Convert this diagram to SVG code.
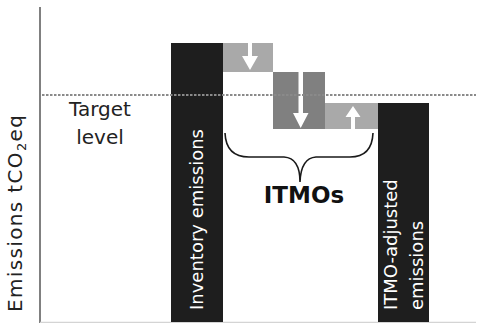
<svg xmlns="http://www.w3.org/2000/svg" width="502" height="323" viewBox="0 0 502 323">
<style>
.bar{fill:#1e1e1e}
.light{fill:#a9a9a9}
.dark{fill:#808080}
.arr{fill:#ffffff}
.wt{fill:#ffffff;font-family:"DejaVu Sans",sans-serif;font-size:18px}
.lbl{fill:#222222;font-family:"DejaVu Sans",sans-serif;font-size:20px}
.bold{fill:#111111;font-family:"DejaVu Sans",sans-serif;font-size:23px;font-weight:bold}
</style>
<rect width="502" height="323" fill="#ffffff"/>
<g id="axes">
  <line x1="40" y1="7" x2="40" y2="323" stroke="#808080" stroke-width="2"/>
  <line x1="40" y1="322.5" x2="476" y2="322.5" stroke="#d4d4d4" stroke-width="1.5"/>
  <text class="lbl" font-size="21" transform="translate(22,312) rotate(-90)" textLength="197" lengthAdjust="spacing">Emissions tCO<tspan font-size="13" dy="4">2</tspan><tspan dy="-4">eq</tspan></text>
</g>
<g id="inventory">
  <rect class="bar" x="171" y="43" width="52" height="279"/>
  <text class="wt" transform="translate(203,310) rotate(-90)" textLength="181" lengthAdjust="spacing">Inventory emissions</text>
</g>
<g id="itmo1">
  <rect class="light" x="223" y="43" width="50" height="29"/>
  <path class="arr" d="M248,43 H252 V56 H258 L250,70 L242,56 H248 Z"/>
</g>
<g id="itmo2">
  <rect class="dark" x="273" y="72" width="52" height="57"/>
  <path class="arr" d="M298.5,72 H303 V113 H308.5 L300.7,128 L293,113 H298.5 Z"/>
</g>
<g id="itmo3">
  <rect class="light" x="325" y="103" width="53" height="26"/>
  <path class="arr" d="M351,129 H355 V117 H360.5 L353,106 L345.5,117 H351 Z"/>
</g>
<g id="adjusted">
  <rect class="bar" x="378" y="103" width="51" height="219"/>
  <text class="wt" transform="translate(397,310) rotate(-90)">ITMO-adjusted</text>
  <text class="wt" transform="translate(423,310) rotate(-90)">emissions</text>
</g>
<g id="target">
  <line x1="42" y1="95" x2="476" y2="95" stroke="#8a8a8a" stroke-width="2" stroke-dasharray="2.5 1.5"/>
  <text class="lbl" x="100" y="116" text-anchor="middle">Target</text>
  <text class="lbl" x="100" y="144" text-anchor="middle">level</text>
</g>
<g id="connectors">
  <path d="M225,133 Q226,157 249,157 L284,157 Q300,158 300,182 Q301,158 316,157 L350,157 Q372,157 373,133" fill="none" stroke="#1a1a1a" stroke-width="1.6"/>
</g>
<g id="itmos">
  <text class="bold" x="304" y="203" text-anchor="middle">ITMOs</text>
</g>
</svg>
